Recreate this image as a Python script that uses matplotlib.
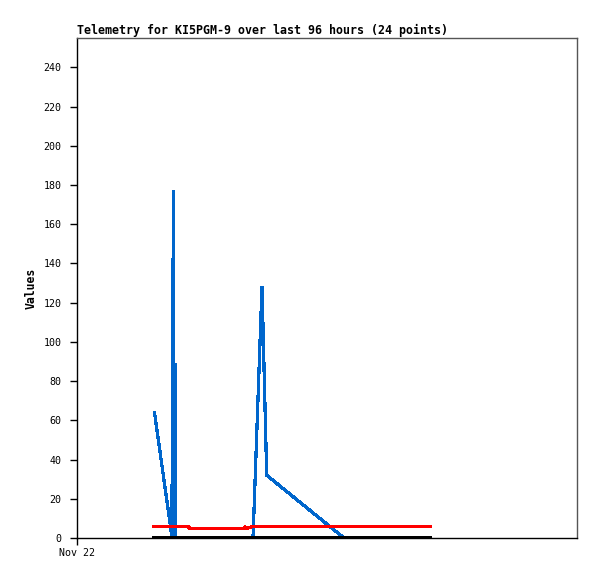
import matplotlib
matplotlib.use("Agg")
import matplotlib.pyplot as plt

# x in hours since Nov 22 00:00
blue_x = [3.72, 4.512, 4.536, 4.584, 4.608, 4.632, 4.656, 4.704, 4.728, 8.448, 8.88, 9.106, 12.816, 16.944]
blue_y = [64, 4, 0, 45, 133, 177, 0, 89, 0, 0, 128, 32, 0, 0]

red_x = [3.696, 5.328, 5.424, 7.968, 8.064, 8.16, 8.304, 8.4, 16.944]
red_y = [5.9, 5.9, 4.8, 4.8, 5.6, 4.9, 5.5, 5.9, 5.9]

black_x = [3.696, 16.944]
black_y = [0, 0]

yticks = list(range(0, 241, 20))
xtick_pos = [0]
xtick_labels = ["Nov 22"]

mono = "DejaVu Sans Mono"

fig = plt.figure(figsize=(5.97, 5.79), dpi=100)
ax = fig.add_axes([77/597, 41/579, 500/597, 500/579])

ax.plot(blue_x, blue_y, color="#0066CC", lw=1.6, antialiased=False, solid_joinstyle="miter")
ax.plot(red_x, red_y, color="#FF0000", lw=1.6, antialiased=False)
ax.plot(black_x, black_y, color="#000000", lw=1.6, antialiased=False)

ax.set_xlim(0, 24)
ax.set_ylim(0, 255)
ax.set_yticks(yticks)
ax.set_yticklabels([str(v) for v in yticks], fontfamily=mono, fontsize=7.2)
ax.set_xticks(xtick_pos)
ax.set_xticklabels(xtick_labels, fontfamily=mono, fontsize=7.2)
ax.tick_params(axis="both", direction="out", length=4.8, width=1, color="black")
ax.tick_params(axis="y", pad=6.5)
ax.tick_params(axis="x", pad=2.5)

for s in ["left", "bottom"]:
    ax.spines[s].set_color("black")
    ax.spines[s].set_linewidth(1)
for s in ["top", "right"]:
    ax.spines[s].set_color("#555555")
    ax.spines[s].set_linewidth(1)

ax.set_ylabel("Values", fontfamily=mono, fontsize=8.3, fontweight="bold", labelpad=4)
ax.set_title("Telemetry for KI5PGM-9 over last 96 hours (24 points)", loc="left",
             fontfamily=mono, fontsize=8.35, fontweight="bold", pad=3)

fig.savefig("out.png", dpi=100)
